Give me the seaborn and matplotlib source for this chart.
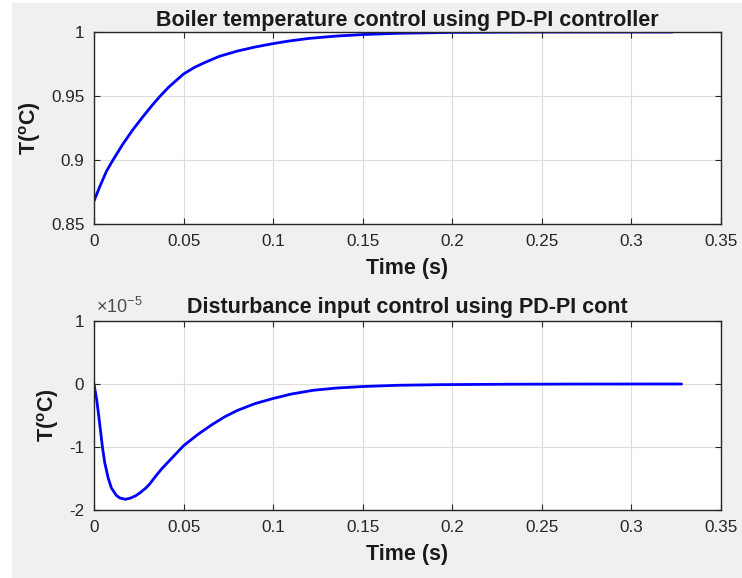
import numpy as np
import pandas as pd
import seaborn as sns
import matplotlib.pyplot as plt
from matplotlib.patches import Rectangle
from matplotlib.ticker import FuncFormatter

# step response of boiler temperature (top)
t_temp = [0, 0.0033, 0.007, 0.0106, 0.0161, 0.0216, 0.027, 0.0325, 0.037, 0.0416,
          0.05, 0.056, 0.0619, 0.07, 0.08, 0.09, 0.0995, 0.108, 0.12, 0.135,
          0.15, 0.17, 0.2, 0.25, 0.3, 0.323]
y_temp = [0.868, 0.8795, 0.8913, 0.900, 0.9124, 0.9235, 0.9333, 0.9428, 0.9500, 0.9568,
          0.9672, 0.9723, 0.9762, 0.9810, 0.9851, 0.9883, 0.9908, 0.9928, 0.9950, 0.9968,
          0.9980, 0.9990, 0.9997, 1.0, 1.0, 1.0]

# disturbance response (bottom), values in units of 1e-5
t_dist = [0, 0.0015, 0.0027, 0.0038, 0.0047, 0.006, 0.0079, 0.0097, 0.0125, 0.0145,
          0.0175, 0.0205, 0.0235, 0.026, 0.029, 0.031, 0.0345, 0.038, 0.042, 0.05,
          0.058, 0.0656, 0.073, 0.08, 0.09, 0.1, 0.11, 0.1223, 0.135, 0.15,
          0.17, 0.195, 0.23, 0.27, 0.328]
y_dist = [0, -0.25, -0.52, -0.78, -1.0, -1.25, -1.49, -1.65, -1.77, -1.81,
          -1.83, -1.81, -1.77, -1.72, -1.65, -1.59, -1.46, -1.34, -1.22, -0.98,
          -0.80, -0.65, -0.52, -0.42, -0.31, -0.23, -0.16, -0.10, -0.065, -0.04,
          -0.02, -0.01, -0.004, -0.001, 0]

x_ticks = [0, 0.05, 0.1, 0.15, 0.2, 0.25, 0.3, 0.35]
top_yticks = [0.85, 0.9, 0.95, 1]
bot_yticks = [-2, -1, 0, 1]

sns.set_theme(style='whitegrid')
plt.rcParams['font.family'] = ['Liberation Sans', 'DejaVu Sans']
plt.rcParams['mathtext.fontset'] = 'custom'
plt.rcParams['mathtext.rm'] = 'Liberation Sans'
plt.rcParams['mathtext.bf'] = 'Liberation Sans:bold'
plt.rcParams['mathtext.default'] = 'regular'
plt.rcParams['axes.unicode_minus'] = False

dark = '#262626'
fig = plt.figure(figsize=(7.42, 5.78), dpi=100)
fig.patch.set_facecolor('white')
fig.patches.append(Rectangle((12 / 742, 0), 1, 1 - 3 / 578, transform=fig.transFigure,
                             facecolor='#f0f0f0', edgecolor='none', zorder=-10))

ax1 = fig.add_axes([94 / 742, 1 - 224 / 578, 627 / 742, 192 / 578])
ax2 = fig.add_axes([94 / 742, 1 - 510 / 578, 627 / 742, 189 / 578])

df1 = pd.DataFrame({'t': t_temp, 'y': y_temp})
df2 = pd.DataFrame({'t': t_dist, 'y': np.array(y_dist) * 1e-5})

sns.lineplot(data=df1, x='t', y='y', ax=ax1, color='#0000ff', linewidth=2.0)
sns.lineplot(data=df2, x='t', y='y', ax=ax2, color='#0000ff', linewidth=2.0)

fmt = FuncFormatter(lambda v, p: '%g' % v)
for ax in (ax1, ax2):
    ax.set_facecolor('white')
    ax.set_xlim(0, 0.35)
    ax.set_xticks(x_ticks)
    ax.xaxis.set_major_formatter(fmt)
    ax.grid(True, color='#dcdcdc', linewidth=0.8)
    for s in ax.spines.values():
        s.set_color(dark)
        s.set_linewidth(1.0)
        s.set_visible(True)
    ax.tick_params(direction='in', length=4, width=0.8, color=dark, labelcolor=dark,
                   labelsize=12.3, top=True, right=True, bottom=True, left=True, pad=7)
    ax.set_xlabel('Time (s)', fontsize=15.5, fontweight='bold', color='#1a1a1a', labelpad=7)
    ax.set_ylabel(r'$\mathbf{T(^{o}C)}$', fontsize=15.5, color='#1a1a1a', labelpad=6)

ax1.set_ylim(0.85, 1)
ax1.set_yticks(top_yticks)
ax1.yaxis.set_major_formatter(fmt)
ax1.set_title('Boiler temperature control using PD-PI controller', fontsize=15.5,
              fontweight='bold', color='#1a1a1a', pad=4.5)

ax2.set_ylim(-2e-5, 1e-5)
ax2.set_yticks([v * 1e-5 for v in bot_yticks])
ax2.yaxis.set_major_formatter(FuncFormatter(lambda v, p: '%g' % round(v / 1e-5, 6)))
ax2.annotate(r'$\times10^{-5}$', xy=(0, 1), xycoords='axes fraction', xytext=(2, 4),
             textcoords='offset pixels', ha='left', va='bottom', fontsize=13,
             color='#4d4d4d')
ax2.set_title('Disturbance input control using PD-PI cont', fontsize=15.5,
              fontweight='bold', color='#1a1a1a', pad=5.5)

plt.savefig('out.png', dpi=100, facecolor=fig.get_facecolor())
